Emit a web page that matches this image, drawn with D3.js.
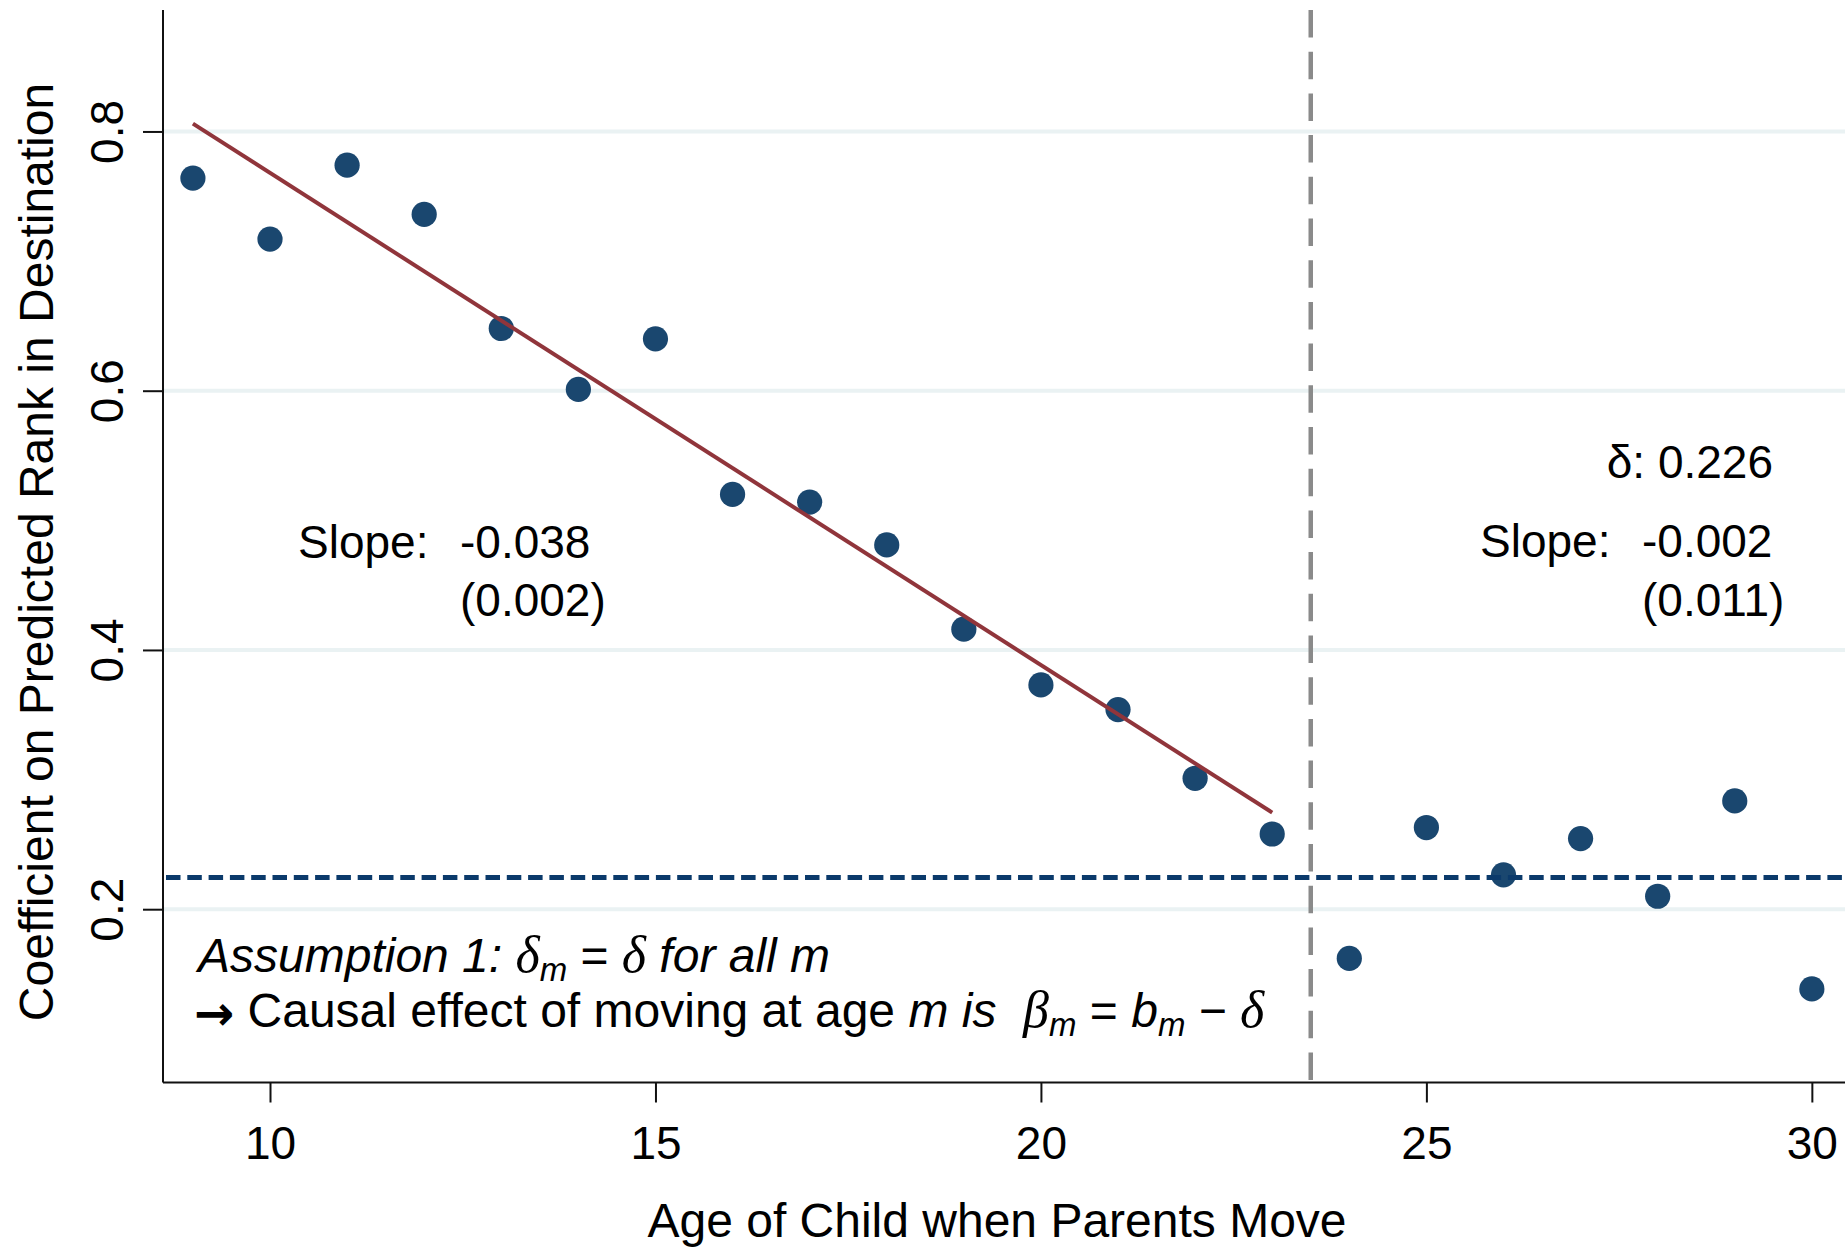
<!DOCTYPE html>
<html>
<head>
<meta charset="utf-8">
<script src="https://cdn.jsdelivr.net/npm/d3@7"></script>
<style>
  html, body { margin: 0; padding: 0; background: #ffffff; }
  svg { display: block; }
  text { font-family: "Liberation Sans", Arial, sans-serif; fill: #000; white-space: pre; }
</style>
</head>
<body>
<div id="chart"></div>
<script>
// ---- data ----
const ages = [9, 10, 11, 12, 13, 14, 15, 16, 17, 18, 19, 20, 21, 22, 23, 24, 25, 26, 27, 28, 29, 30];
const coefs = [0.764, 0.717, 0.774, 0.736, 0.648, 0.601, 0.640, 0.520, 0.514, 0.481, 0.416, 0.373, 0.354, 0.301, 0.258,
               0.162, 0.263, 0.2265, 0.2545, 0.210, 0.2835, 0.1385];
const fitAges = [9, 23];
const fitValues = [0.806, 0.2745];
const deltaLineValue = 0.2245;
const cutoffAge = 23.5;
const xTicks = [10, 15, 20, 25, 30];
const yTicks = [0.2, 0.4, 0.6, 0.8];
const yTickLabels = ["0.2", "0.4", "0.6", "0.8"];
const xTitle = "Age of Child when Parents Move";
const yTitle = "Coefficient on Predicted Rank in Destination";
const leftSlope = "-0.038", leftSE = "(0.002)";
const rightDelta = "δ: 0.226", rightSlope = "-0.002", rightSE = "(0.011)";

// ---- layout ----
const W = 1845, H = 1248;
const x = d3.scaleLinear().domain([8.612, 30.43]).range([163, 1845]);
const y = d3.scaleLinear().domain([0.0663, 0.8937]).range([1082.5, 10]);

const svg = d3.select("#chart").append("svg").attr("width", W).attr("height", H);
svg.append("rect").attr("width", W).attr("height", H).attr("fill", "#fff");

// gridlines
svg.append("g").selectAll("line").data(yTicks).join("line")
  .attr("x1", x.range()[0]).attr("x2", x.range()[1])
  .attr("y1", d => y(d)).attr("y2", d => y(d))
  .attr("stroke", "#eaf2f3").attr("stroke-width", 4);

// axes
const xAxis = d3.axisBottom(x).tickValues(xTicks).tickSize(20).tickPadding(0).tickFormat(d3.format("d"));
const gx = svg.append("g").attr("transform", `translate(0,${y.range()[0]})`).call(xAxis);
gx.select(".domain").attr("d", `M${x.range()[0]},0H${x.range()[1]}`).attr("stroke", "#111").attr("stroke-width", 2);
gx.selectAll(".tick line").attr("stroke", "#111").attr("stroke-width", 2);
gx.selectAll(".tick text").attr("font-size", 46).attr("font-family", "Liberation Sans, Arial, sans-serif")
  .attr("fill", "#000").attr("dy", null).attr("y", 76.5);

const yAxis = d3.axisLeft(y).tickValues(yTicks).tickSize(20).tickFormat((d, i) => yTickLabels[i]);
const gy = svg.append("g").attr("transform", `translate(${x.range()[0]},0)`).call(yAxis);
gy.select(".domain").attr("d", `M0,${y.range()[1]}V${y.range()[0]}`).attr("stroke", "#111").attr("stroke-width", 2);
gy.selectAll(".tick line").attr("stroke", "#111").attr("stroke-width", 2);
gy.selectAll(".tick text").attr("font-size", 46).attr("font-family", "Liberation Sans, Arial, sans-serif")
  .attr("fill", "#000").attr("dy", null).attr("x", null)
  .attr("text-anchor", "middle")
  .attr("transform", "translate(-40,0) rotate(-90)");

// points
const pts = ages.map((a, i) => ({ a, v: coefs[i] }));
svg.append("g").selectAll("circle").data(pts).join("circle")
  .attr("cx", d => x(d.a)).attr("cy", d => y(d.v)).attr("r", 12.6)
  .attr("fill", "#1a476f");

// fit line
svg.append("line")
  .attr("x1", x(fitAges[0])).attr("y1", y(fitValues[0]))
  .attr("x2", x(fitAges[1])).attr("y2", y(fitValues[1]))
  .attr("stroke", "#90353b").attr("stroke-width", 4);

// horizontal dashed delta line
svg.append("line")
  .attr("x1", x.range()[0] + 3).attr("x2", x.range()[1])
  .attr("y1", y(deltaLineValue)).attr("y2", y(deltaLineValue))
  .attr("stroke", "#0b3a6b").attr("stroke-width", 5)
  .attr("stroke-dasharray", "14.5,6.8");

// vertical dashed cutoff
svg.append("line")
  .attr("x1", x(cutoffAge)).attr("x2", x(cutoffAge))
  .attr("y1", y.range()[1]).attr("y2", y.range()[0])
  .attr("stroke", "#8a8a8a").attr("stroke-width", 4.5)
  .attr("stroke-dasharray", "27.5,14.2");

// axis titles
svg.append("text").attr("x", 997).attr("y", 1237).attr("text-anchor", "middle")
  .attr("font-size", 48).text(xTitle);
svg.append("text").attr("transform", "translate(53,552) rotate(-90)").attr("text-anchor", "middle")
  .attr("font-size", 48).text(yTitle);

// left annotation
svg.append("text").attr("x", 298).attr("y", 558).attr("font-size", 46).text("Slope:");
svg.append("text").attr("x", 460).attr("y", 558).attr("font-size", 46).text(leftSlope);
svg.append("text").attr("x", 460).attr("y", 616).attr("font-size", 46).text(leftSE);

// right annotation
svg.append("text").attr("x", 1773).attr("y", 478).attr("font-size", 46).attr("text-anchor", "end").text(rightDelta);
svg.append("text").attr("x", 1480).attr("y", 557).attr("font-size", 46).text("Slope:");
svg.append("text").attr("x", 1642).attr("y", 557).attr("font-size", 46).text(rightSlope);
svg.append("text").attr("x", 1642).attr("y", 616).attr("font-size", 46).text(rightSE);

// assumption text
const serif = "Liberation Serif, Times New Roman, serif";
const t1 = svg.append("text").attr("x", 198).attr("y", 972).attr("font-size", 48).attr("font-style", "italic");
t1.append("tspan").text("Assumption 1: ");
t1.append("tspan").attr("font-family", serif).attr("font-size", 52).text("δ");
t1.append("tspan").attr("font-size", 33).attr("dy", 9).text("m");
t1.append("tspan").attr("dy", -9).attr("font-style", "normal").text(" = ");
t1.append("tspan").attr("font-family", serif).attr("font-size", 52).text("δ");
t1.append("tspan").text(" for all m");

const t2 = svg.append("text").attr("x", 194).attr("y", 1030).attr("font-size", 48);
t2.append("tspan").attr("font-family", "DejaVu Sans, sans-serif").attr("font-weight", "bold").attr("font-size", 48).text("→");
t2.append("tspan").attr("dy", -3).text(" Causal effect of moving at age ");
t2.append("tspan").attr("font-style", "italic").text("m is  ");
t2.append("tspan").attr("font-family", serif).attr("font-style", "italic").attr("font-size", 52).text("β");
t2.append("tspan").attr("font-style", "italic").attr("font-size", 33).attr("dy", 9).text("m");
t2.append("tspan").attr("dy", -9).text(" = ");
t2.append("tspan").attr("font-style", "italic").text("b");
t2.append("tspan").attr("font-style", "italic").attr("font-size", 33).attr("dy", 9).text("m");
t2.append("tspan").attr("dy", -9).text(" − ");
t2.append("tspan").attr("font-family", serif).attr("font-style", "italic").attr("font-size", 52).text("δ");
</script>
</body>
</html>
